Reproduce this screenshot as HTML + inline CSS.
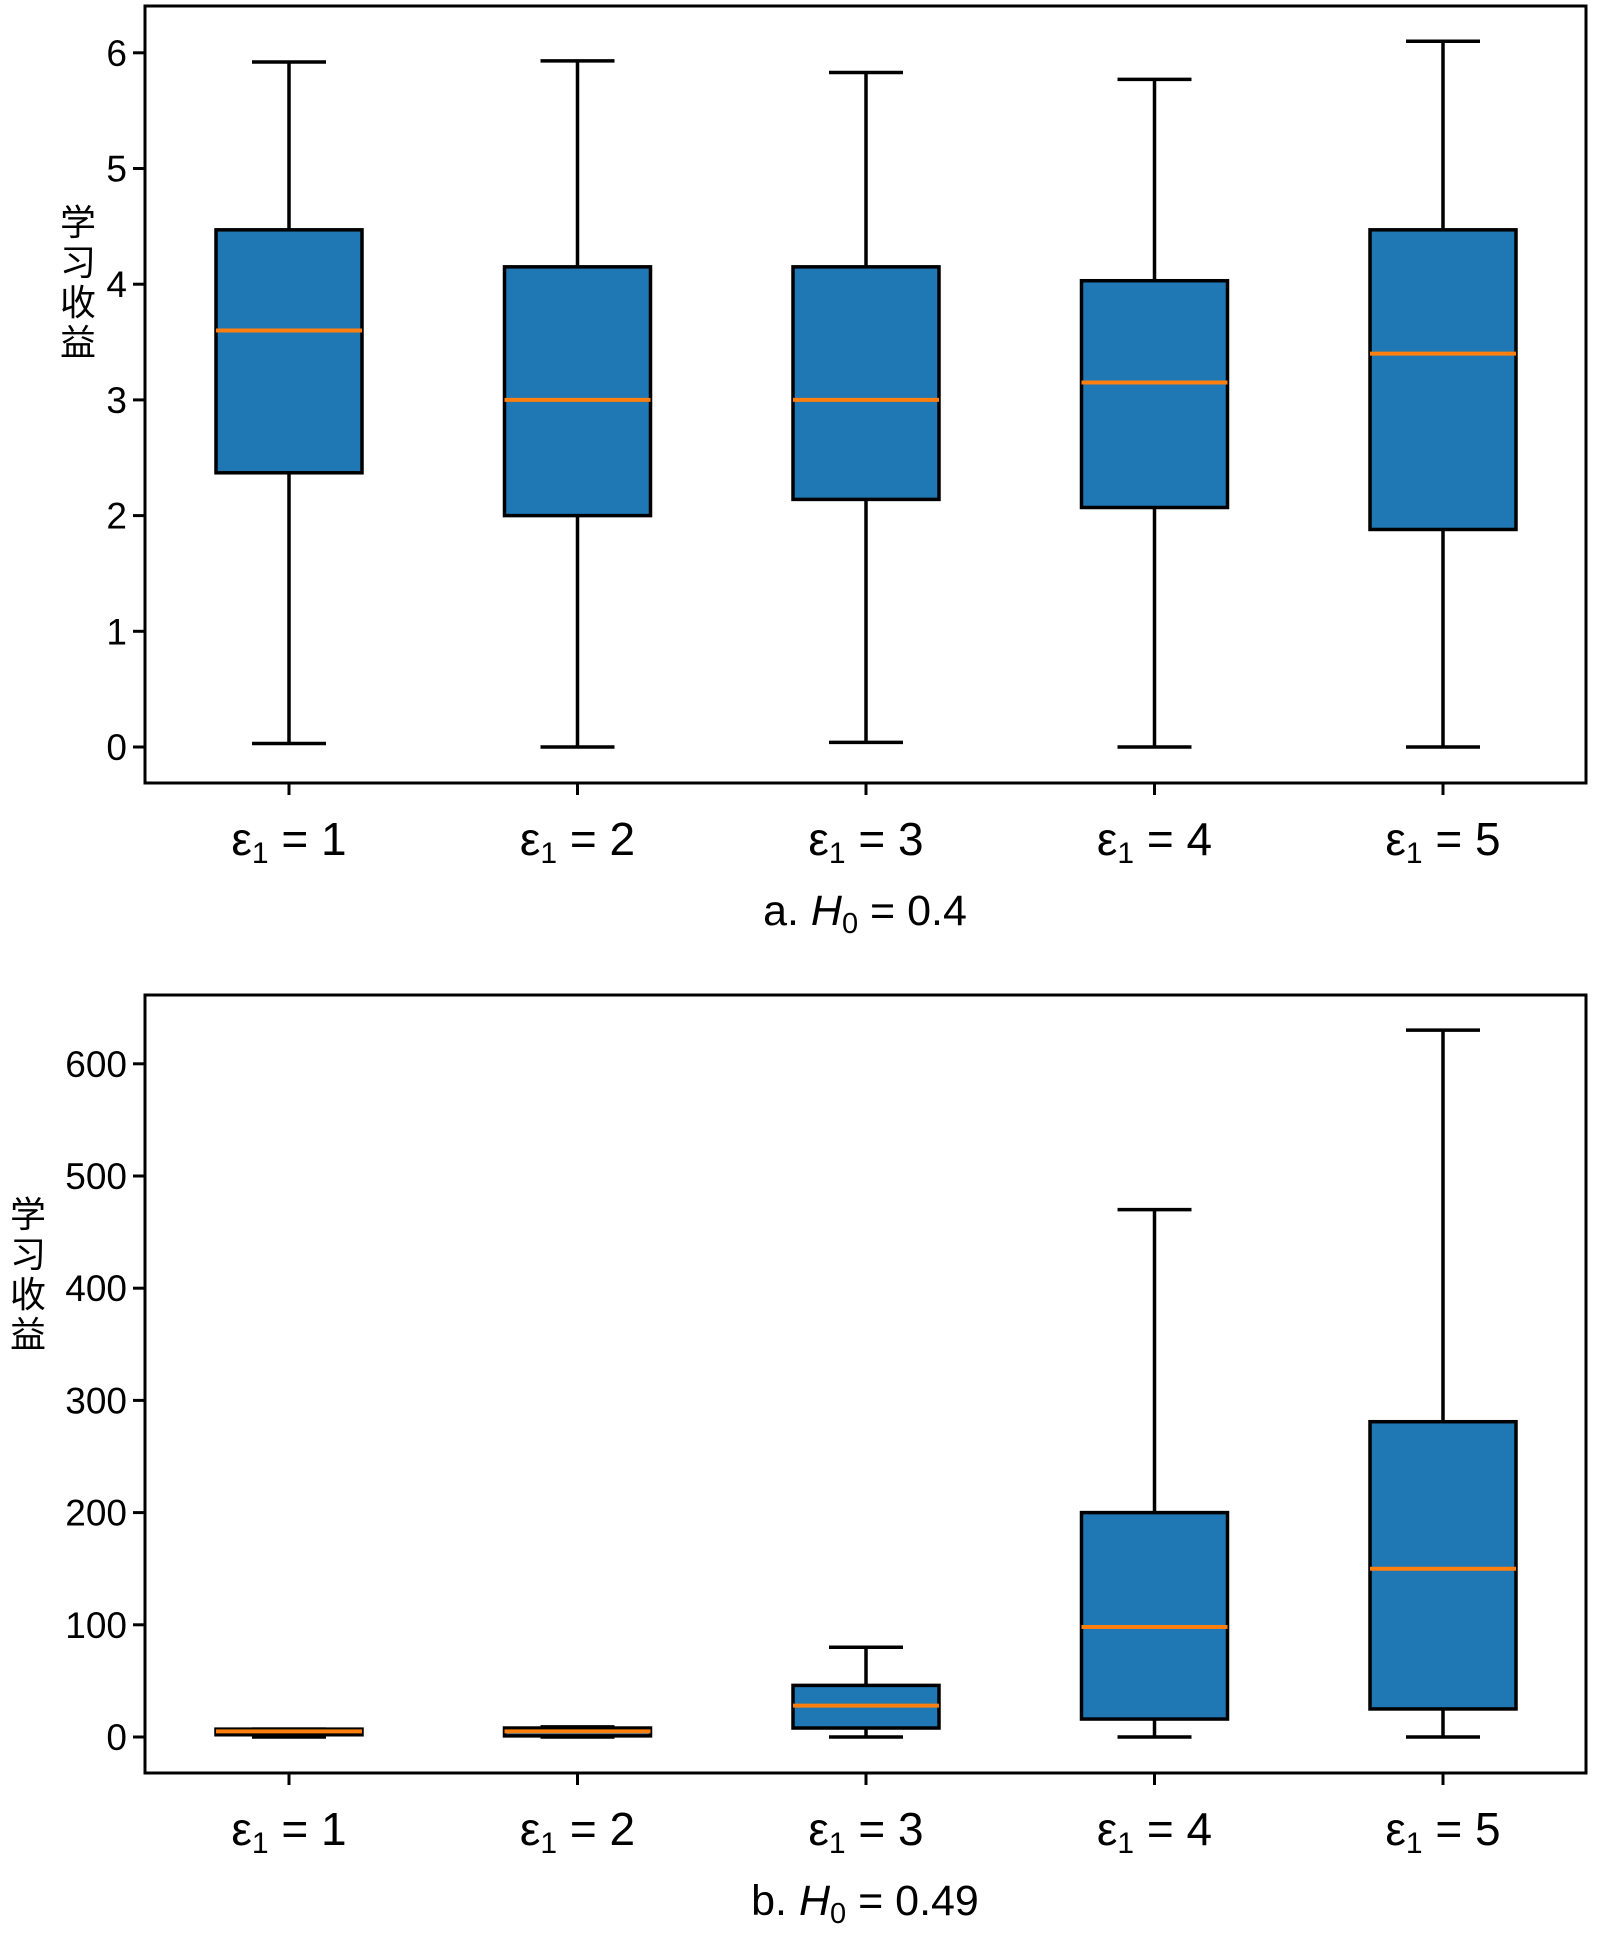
<!DOCTYPE html>
<html><head><meta charset="utf-8"><style>
body{margin:0;background:#fff;position:relative;}
svg{display:block;font-family:"Liberation Sans","Noto Sans CJK SC",sans-serif;}
.yt{position:absolute;font-family:"Noto Sans CJK SC","WenQuanYi Zen Hei",sans-serif;font-size:36px;line-height:40px;width:40px;color:#000;writing-mode:horizontal-tb;}
</style></head><body>
<svg id="chart" width="1600" height="1934" viewBox="0 0 1600 1934" xmlns="http://www.w3.org/2000/svg"></svg>
<div class="yt" style="left:60px;top:200px;">学<br>习<br>收<br>益</div>
<div class="yt" style="left:10px;top:1192px;">学<br>习<br>收<br>益</div>
<script>
const categories = ["1","2","3","4","5"];
// panel a: whisker low, q1, median, q3, whisker high
const aLow = [0.03, 0, 0.04, 0, 0];
const aQ1 = [2.37, 2.0, 2.14, 2.07, 1.88];
const aMed = [3.6, 3.0, 3.0, 3.15, 3.4];
const aQ3 = [4.47, 4.15, 4.15, 4.03, 4.47];
const aHigh = [5.92, 5.93, 5.83, 5.77, 6.1];
const aTicks = [0,1,2,3,4,5,6];
// panel b
const bLow = [0, 0, 0, 0, 0];
const bQ1 = [2, 1, 8, 16, 25];
const bMed = [5, 5, 28, 98, 150];
const bQ3 = [7, 8, 46, 200, 281];
const bHigh = [7, 9, 80, 470, 630];
const bTicks = [0,100,200,300,400,500,600];

const svg = document.getElementById('chart');
const NS = "http://www.w3.org/2000/svg";
function mk(tag, attrs, parent){const e=document.createElementNS(NS,tag);for(const k in attrs)e.setAttribute(k,attrs[k]);(parent||svg).appendChild(e);return e;}

function panel(id, box, y0px, yUnitPx, unit, ticks, low, q1, med, q3, high, caption, capTail){
  const g = mk('g',{});
  
  
  const xs = i => 289 + i*288.5;
  const ys = v => y0px - v/unit*yUnitPx;
  const frame = mk('rect',{x:box.l,y:box.t,width:box.r-box.l,height:box.b-box.t,fill:'none',stroke:'#000','stroke-width':3},g);
  
  
  ticks.forEach(t=>{
    const y=ys(t);
    mk('line',{x1:box.l-12,x2:box.l,y1:y,y2:y,stroke:'#000','stroke-width':3},g);
    const tx=mk('text',{x:box.l-18,y:y+13,'text-anchor':'end','font-size':37,fill:'#000'},g);
    tx.textContent=t;
    
    
  });
  categories.forEach((c,i)=>{
    const x=xs(i);
    mk('line',{x1:x,x2:x,y1:box.b,y2:box.b+12,stroke:'#000','stroke-width':3},g);
    const tx=mk('text',{x:x,y:box.b+72,'text-anchor':'middle','font-size':46,fill:'#000'},g);
    tx.innerHTML='ε<tspan font-size="30" dy="8">1</tspan><tspan dy="-8"> = '+c+'</tspan>';
    
    
    const bg=mk('g',{},g);
    
    
    const hw=73, cw=37;
    mk('line',{x1:x,x2:x,y1:ys(high[i]),y2:ys(q3[i]),stroke:'#000','stroke-width':3.5},bg);
    mk('line',{x1:x,x2:x,y1:ys(q1[i]),y2:ys(low[i]),stroke:'#000','stroke-width':3.5},bg);
    mk('line',{x1:x-cw,x2:x+cw,y1:ys(high[i]),y2:ys(high[i]),stroke:'#000','stroke-width':3.5},bg);
    mk('line',{x1:x-cw,x2:x+cw,y1:ys(low[i]),y2:ys(low[i]),stroke:'#000','stroke-width':3.5},bg);
    mk('rect',{x:x-hw,y:ys(q3[i]),width:2*hw,height:Math.max(1,ys(q1[i])-ys(q3[i])),fill:'#1f77b4',stroke:'#000','stroke-width':3.5},bg);
    mk('line',{x1:x-hw,x2:x+hw,y1:ys(med[i]),y2:ys(med[i]),stroke:'#ff7f0e','stroke-width':4},bg);
  });
  const cap=mk('text',{x:865,y:box.b+142,'text-anchor':'middle','font-size':43,fill:'#000'},g);
  cap.innerHTML=caption+' <tspan font-style="italic">H</tspan><tspan font-size="29" dy="8">0</tspan><tspan dy="-8"> = '+capTail+'</tspan>';
  
  
}
panel('a',{l:145,r:1586,t:6,b:783},747,115.7,1,aTicks,aLow,aQ1,aMed,aQ3,aHigh,'a.','0.4');
panel('b',{l:145,r:1586,t:995,b:1773},1737,112.2,100,bTicks,bLow,bQ1,bMed,bQ3,bHigh,'b.','0.49');
</script>
</body></html>
